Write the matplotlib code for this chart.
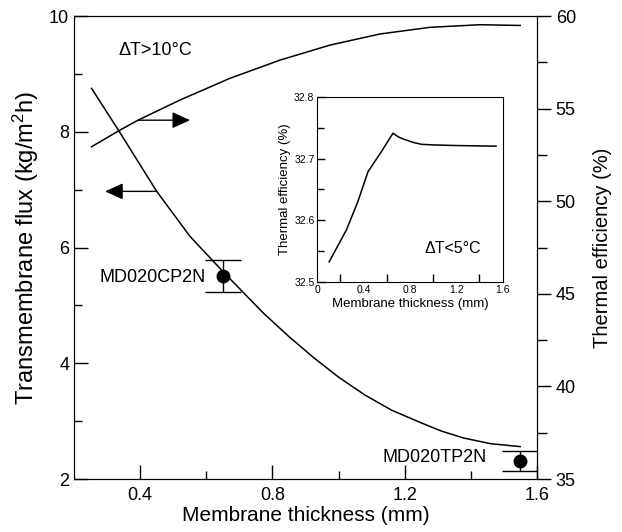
import numpy as np
from matplotlib import pyplot as plt

plt.rcParams['font.family'] = ['Liberation Sans', 'DejaVu Sans']
plt.rcParams['mathtext.default'] = 'regular'

# main plot, flux curve (left axis)
flux_x = [0.253, 0.334, 0.45, 0.551, 0.651, 0.772, 0.85, 0.924, 1.0, 1.08, 1.16, 1.25, 1.31, 1.377, 1.46, 1.549]
flux_y = [8.75, 8.03, 6.97, 6.19, 5.58, 4.87, 4.46, 4.1, 3.76, 3.45, 3.19, 2.97, 2.83, 2.71, 2.61, 2.56]

# thermal efficiency curve (right axis)
eff_x = [0.253, 0.339, 0.394, 0.52, 0.672, 0.823, 0.974, 1.125, 1.277, 1.428, 1.549]
eff_y = [52.94, 53.84, 54.38, 55.46, 56.64, 57.62, 58.43, 59.03, 59.39, 59.53, 59.49]

# measured membranes
pt_x = [0.651, 1.549]
pt_y = [5.51, 2.31]
pt_err = [0.28, 0.17]
pt_labels = ['MD020CP2N', 'MD020TP2N']

# inset, dT<5C
ins_x = [0.103, 0.253, 0.35, 0.439, 0.55, 0.654, 0.70, 0.75, 0.83, 0.9, 1.0, 1.2, 1.544]
ins_y = [32.533, 32.585, 32.63, 32.679, 32.71, 32.741, 32.735, 32.731, 32.726, 32.723, 32.722, 32.721, 32.720]

fig = plt.figure(figsize=(6.22, 5.32), dpi=100)
ax = fig.add_axes([0.119, 0.0996, 0.7444, 0.8703])
ax2 = ax.twinx()

ax.plot(flux_x, flux_y, color='black', lw=1.1)
ax2.plot(eff_x, eff_y, color='black', lw=1.1)

ax.errorbar(pt_x, pt_y, yerr=pt_err, fmt='o', color='black', ms=9,
            capsize=13, elinewidth=1, capthick=1)
ax.text(0.599, 5.49, pt_labels[0], ha='right', va='center', fontsize=13)
ax.text(1.449, 2.37, pt_labels[1], ha='right', va='center', fontsize=13)

head = '-|>,head_length=0.55,head_width=0.25'
ax.annotate('', xy=(0.551, 8.2), xytext=(0.394, 8.2),
            arrowprops=dict(arrowstyle=head, mutation_scale=20, color='black', lw=1,
                            shrinkA=0, shrinkB=0))
ax.annotate('', xy=(0.294, 6.97), xytext=(0.45, 6.97),
            arrowprops=dict(arrowstyle=head, mutation_scale=20, color='black', lw=1,
                            shrinkA=0, shrinkB=0))

ax.text(0.334, 9.41, '\u0394T>10\u00b0C', ha='left', va='center', fontsize=13)

ax.set_xlim(0.2, 1.6)
ax.set_ylim(2, 10)
ax2.set_ylim(35, 60)
ax.set_xticks([0.4, 0.8, 1.2, 1.6])
ax.set_xticks([0.6, 1.0, 1.4], minor=True)
ax.set_xticklabels(['0.4', '0.8', '1.2', '1.6'])
ax.set_yticks([2, 4, 6, 8, 10])
ax.set_yticks([3, 5, 7, 9], minor=True)
ax2.set_yticks([35, 40, 45, 50, 55, 60])
ax2.set_yticks([37.5, 42.5, 47.5, 52.5, 57.5], minor=True)

ax.tick_params(axis='both', which='both', direction='in', labelsize=13, top=False, right=False)
ax.tick_params(which='major', length=10, width=1)
ax.tick_params(which='minor', length=6, width=1)
ax.tick_params(axis='x', pad=6)
ax2.tick_params(axis='y', which='both', direction='out', labelsize=13, width=1)
ax2.tick_params(which='major', length=10)
ax2.tick_params(which='minor', length=7)

ax.set_xlabel('Membrane thickness (mm)', fontsize=15, labelpad=1)
ax.set_ylabel('Transmembrane flux (kg/m$^2$h)', fontsize=17, labelpad=6)
ax2.set_ylabel('Thermal efficiency (%)', fontsize=14.5, labelpad=12)

# inset
axi = fig.add_axes([0.510, 0.4694, 0.298, 0.3489])
axi.plot(ins_x, ins_y, color='black', lw=1.1)
axi.text(0.927, 32.555, '\u0394T<5\u00b0C', ha='left', va='center', fontsize=11.5)
axi.set_xlim(0, 1.6)
axi.set_ylim(32.5, 32.8)
axi.set_xticks([0, 0.4, 0.8, 1.2, 1.6])
axi.set_xticklabels(['0', '0.4', '0.8', '1.2', '1.6'])
axi.set_xticks([0.2, 0.6, 1.0, 1.4], minor=True)
axi.set_yticks([32.5, 32.6, 32.7, 32.8])
axi.set_yticks([32.55, 32.65, 32.75], minor=True)
axi.tick_params(axis='both', which='both', direction='in', labelsize=7.5, width=1)
axi.tick_params(axis='x', which='major', length=0, pad=2)
axi.tick_params(axis='x', which='minor', length=6)
axi.tick_params(axis='y', which='major', length=6, pad=2)
axi.tick_params(axis='y', which='minor', length=5)
axi.set_xlabel('Membrane thickness (mm)', fontsize=9.5, labelpad=2)
axi.set_ylabel('Thermal efficiency (%)', fontsize=9.5, labelpad=2)

plt.savefig('out.png', dpi=100)
